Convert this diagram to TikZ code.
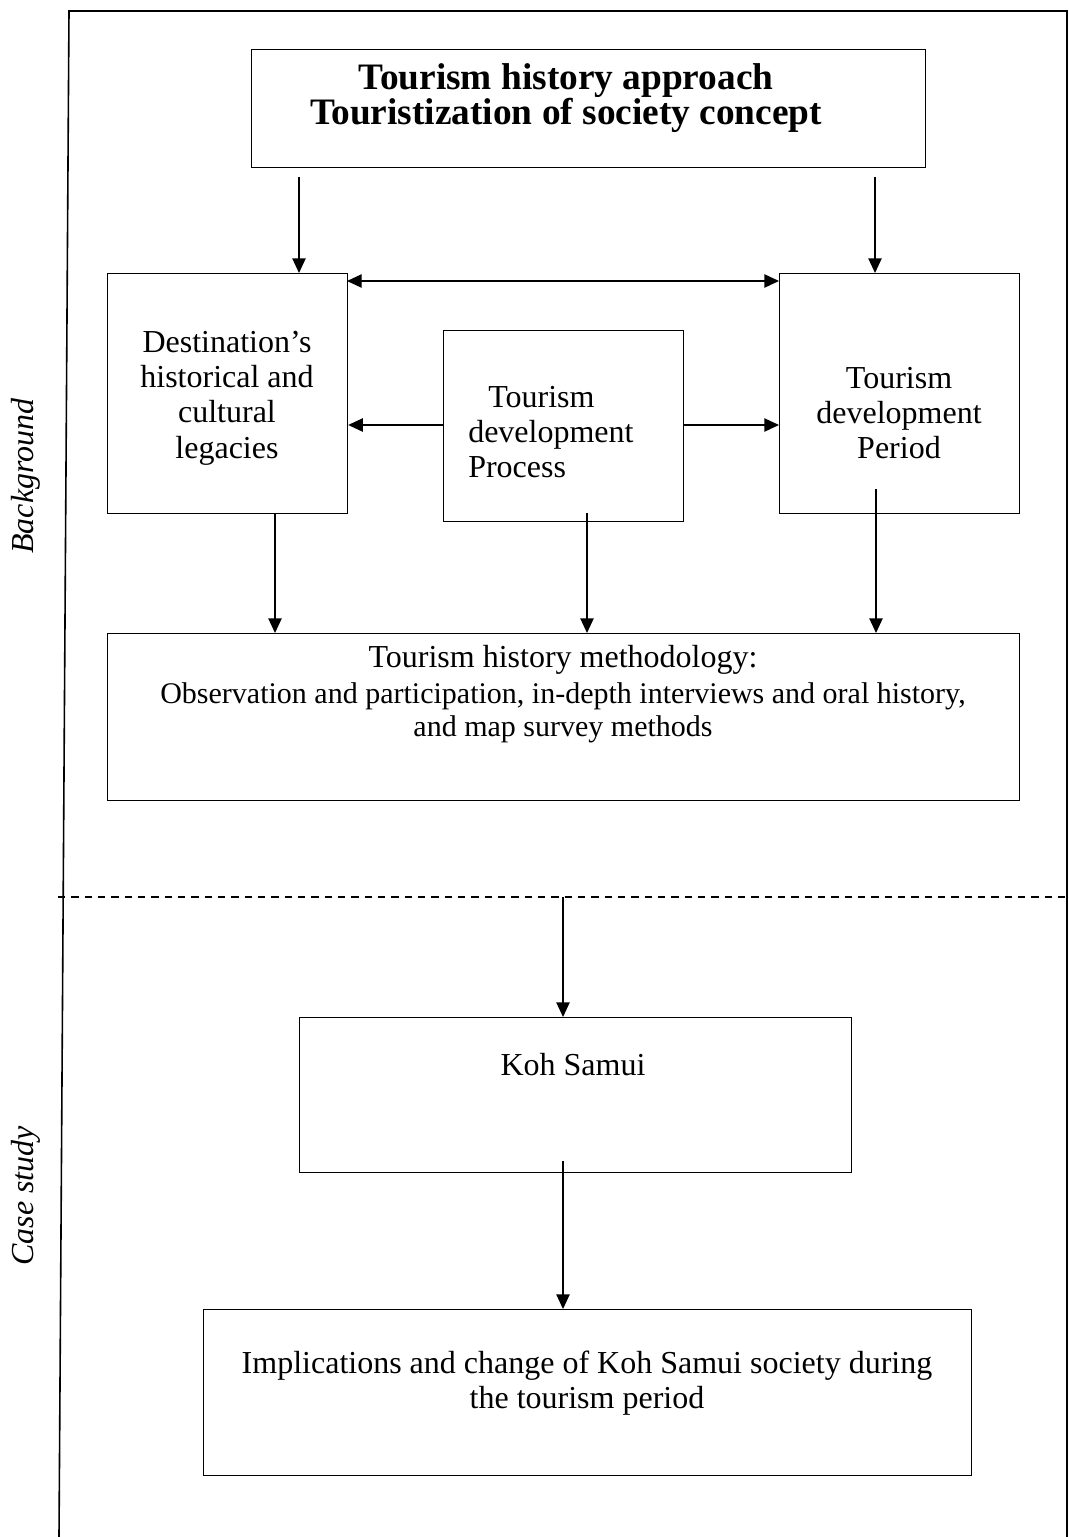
\documentclass[tikz,border=0pt]{standalone}
\usepackage{fontspec}
\setmainfont{Liberation Serif}
\usetikzlibrary{arrows.meta}
\begin{document}
\begin{tikzpicture}[x=0.75pt,y=-0.75pt,
  box/.style={draw, line width=0.9pt, rectangle, inner sep=0pt, anchor=north west},
  arr/.style={line width=1pt, -{Triangle[length=11pt,width=10pt]}},
  darr/.style={line width=1pt, {Triangle[length=11pt,width=10pt]}-{Triangle[length=11pt,width=10pt]}},
  lbl/.style={align=center, font=\fontsize{24}{26.5}\selectfont, inner sep=0pt},
  small/.style={align=center, font=\fontsize{22.5}{25}\selectfont, inner sep=0pt},
  side/.style={rotate=90, font=\itshape\fontsize{24}{26}\selectfont, inner sep=0pt}]
\useasboundingbox (0,0) rectangle (1068,1537);
% frame
\coordinate (fa) at (59,1537);
\coordinate (fb) at (69,11);
\coordinate (fc) at (1067,11);
\coordinate (fd) at (1067,1537);
\draw[line width=1.2pt] (fa) -- (fb) -- (fc) -- (fd);
% dashed separator
\coordinate (da) at (58,897);
\coordinate (db) at (1068,897);
\draw[line width=1pt, dash pattern=on 5.5pt off 4.5pt] (da) -- (db);
% boxes
\node[box, minimum width=674*0.75pt, minimum height=118*0.75pt] (T) at (251,49) {};
\node[box, minimum width=240*0.75pt, minimum height=240*0.75pt] (L) at (107,273) {};
\node[box, minimum width=240*0.75pt, minimum height=191*0.75pt] (M) at (443,330) {};
\node[box, minimum width=240*0.75pt, minimum height=240*0.75pt] (R) at (779,273) {};
\node[box, minimum width=912*0.75pt, minimum height=167*0.75pt] (Me) at (107,633) {};
\node[box, minimum width=552*0.75pt, minimum height=155*0.75pt] (K) at (299,1017) {};
\node[box, minimum width=768*0.75pt, minimum height=166*0.75pt] (I) at (203,1309) {};
% texts
\node[lbl, font=\bfseries\fontsize{28}{26.5}\selectfont] (tT) at (566,98) {Tourism history approach\hspace{15pt}\\Touristization of society concept};
\node[lbl] (tL) at (227,398) {Destination’s\\historical and\\cultural\\legacies};
\node[lbl, align=left, anchor=west] (tM) at (468,432) {\hspace{15pt}Tourism\\development\\Process};
\node[lbl] (tR) at (899,413) {Tourism\\development\\Period};
\node[lbl] (tMe1) at (563,660) {Tourism history methodology:};
\node[small] (tMe2) at (563,713) {Observation and participation, in-depth interviews and oral history,\\and map survey methods};
\node[lbl] (tK) at (573,1065) {Koh Samui};
\node[lbl] (tI) at (587,1383) {Implications and change of Koh Samui society during\\the tourism period};
\node[side] (sB) at (26,476) {Background};
\node[side] (sC) at (26,1196) {Case study};
% arrows
\coordinate (a1) at (299,177);
\draw[arr] (a1) -- (a1 |- L.north);
\coordinate (a2) at (875,177);
\draw[arr] (a2) -- (a2 |- R.north);
\coordinate (a3) at (347,281);
\draw[darr] (a3) -- (a3 -| R.west);
\coordinate (a4) at (443,425);
\draw[arr] (a4) -- (a4 -| L.east);
\coordinate (a5) at (683,425);
\draw[arr] (a5) -- (a5 -| R.west);
\coordinate (a6) at (275,513);
\draw[arr] (a6) -- (a6 |- Me.north);
\coordinate (a7) at (587,513);
\draw[arr] (a7) -- (a7 |- Me.north);
\coordinate (a8) at (876,489);
\draw[arr] (a8) -- (a8 |- Me.north);
\coordinate (a9) at (563,897);
\draw[arr] (a9) -- (a9 |- K.north);
\coordinate (a10) at (563,1161);
\draw[arr] (a10) -- (a10 |- I.north);
\end{tikzpicture}
\end{document}
